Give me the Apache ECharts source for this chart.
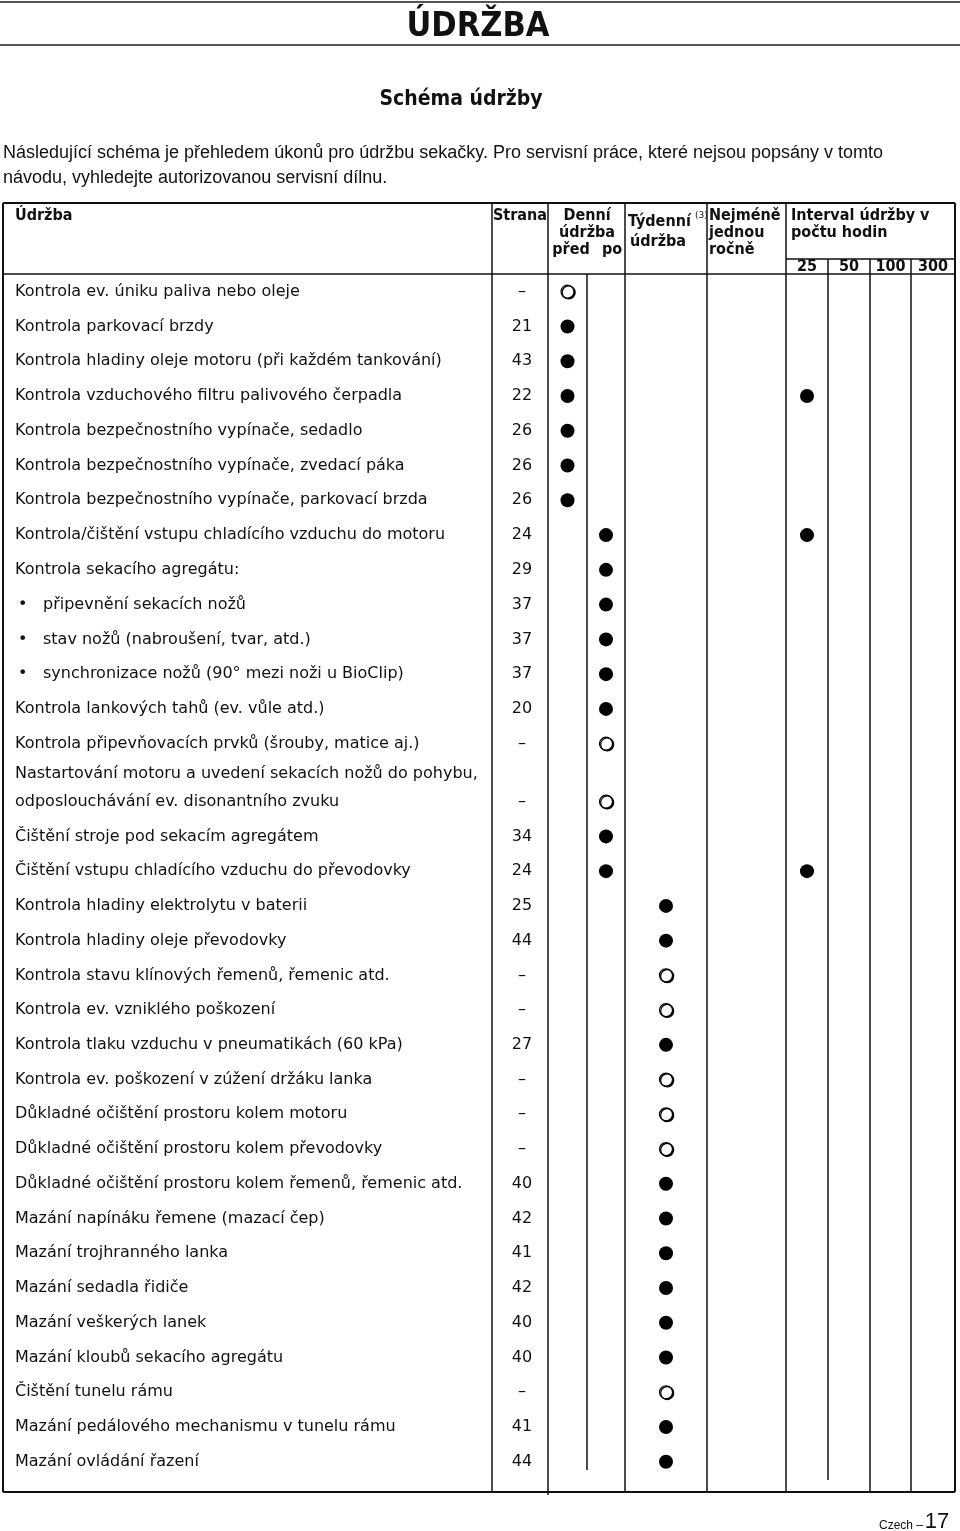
<!DOCTYPE html>
<html>
<head>
<meta charset="utf-8">
<title>Údržba – schéma údržby</title>
<script src="https://cdn.jsdelivr.net/npm/echarts@6/dist/echarts.min.js"></script>
<style>
  html, body { margin: 0; padding: 0; background: #fff; }
  #chart { width: 960px; height: 1531px; }
</style>
</head>
<body>
<div id="chart"></div>
<script>
// úkony údržby (řádky tabulky)
const tasks = [
  "Kontrola ev. úniku paliva nebo oleje",
  "Kontrola parkovací brzdy",
  "Kontrola hladiny oleje motoru (při každém tankování)",
  "Kontrola vzduchového filtru palivového čerpadla",
  "Kontrola bezpečnostního vypínače, sedadlo",
  "Kontrola bezpečnostního vypínače, zvedací páka",
  "Kontrola bezpečnostního vypínače, parkovací brzda",
  "Kontrola/čištění vstupu chladícího vzduchu do motoru",
  "Kontrola sekacího agregátu:",
  "• připevnění sekacích nožů",
  "• stav nožů (nabroušení, tvar, atd.)",
  "• synchronizace nožů (90° mezi noži u BioClip)",
  "Kontrola lankových tahů (ev. vůle atd.)",
  "Kontrola připevňovacích prvků (šrouby, matice aj.)",
  "Nastartování motoru a uvedení sekacích nožů do pohybu,\nodposlouchávání ev. disonantního zvuku",
  "Čištění stroje pod sekacím agregátem",
  "Čištění vstupu chladícího vzduchu do převodovky",
  "Kontrola hladiny elektrolytu v baterii",
  "Kontrola hladiny oleje převodovky",
  "Kontrola stavu klínových řemenů, řemenic atd.",
  "Kontrola ev. vzniklého poškození",
  "Kontrola tlaku vzduchu v pneumatikách (60 kPa)",
  "Kontrola ev. poškození v zúžení držáku lanka",
  "Důkladné očištění prostoru kolem motoru",
  "Důkladné očištění prostoru kolem převodovky",
  "Důkladné očištění prostoru kolem řemenů, řemenic atd.",
  "Mazání napínáku řemene (mazací čep)",
  "Mazání trojhranného lanka",
  "Mazání sedadla řidiče",
  "Mazání veškerých lanek",
  "Mazání kloubů sekacího agregátu",
  "Čištění tunelu rámu",
  "Mazání pedálového mechanismu v tunelu rámu",
  "Mazání ovládání řazení"
];

// odkaz na stranu návodu
const pages = [
  "–", "21", "43", "22", "26", "26", "26", "24", "29", "37", "37", "37",
  "20", "–", "–", "34", "24", "25", "44", "–", "–", "27", "–", "–",
  "–", "40", "42", "41", "42", "40", "40", "–", "41", "44"
];

// sloupce s intervaly
const columns = ["před", "po", "Týdenní", "Nejméně jednou ročně", "25", "50", "100", "300"];

// [řádek, sloupec, druh]  druh: "f" = plný kroužek, "o" = prázdný kroužek
const checks = [
  [0, "před", "o"], [1, "před", "f"], [2, "před", "f"], [3, "před", "f"], [3, "25", "f"],
  [4, "před", "f"], [5, "před", "f"], [6, "před", "f"],
  [7, "po", "f"], [7, "25", "f"], [8, "po", "f"], [9, "po", "f"], [10, "po", "f"],
  [11, "po", "f"], [12, "po", "f"], [13, "po", "o"], [14, "po", "o"], [15, "po", "f"],
  [16, "po", "f"], [16, "25", "f"],
  [17, "Týdenní", "f"], [18, "Týdenní", "f"], [19, "Týdenní", "o"], [20, "Týdenní", "o"],
  [21, "Týdenní", "f"], [22, "Týdenní", "o"], [23, "Týdenní", "o"], [24, "Týdenní", "o"],
  [25, "Týdenní", "f"], [26, "Týdenní", "f"], [27, "Týdenní", "f"], [28, "Týdenní", "f"],
  [29, "Týdenní", "f"], [30, "Týdenní", "f"], [31, "Týdenní", "o"], [32, "Týdenní", "f"],
  [33, "Týdenní", "f"]
];

// rozvržení tabulky (px)
const colEdges = [548, 587, 625, 707, 786, 828, 870, 911, 955];
const split = 14; // od tohoto řádku druhá mřížka (dvouřádkový text)

const BODY = "'DejaVu Sans', sans-serif";
const COND = "'DejaVu Sans Condensed', 'DejaVu Sans', sans-serif";
const NARROW = "'Liberation Sans Narrow', 'Liberation Sans', sans-serif";
const INK = "#111";

const colX = (name) => {
  const i = columns.indexOf(name);
  return (colEdges[i] + colEdges[i + 1]) / 2;
};

const chart = echarts.init(document.getElementById("chart"));

const groups = [
  { from: 0, to: split, top: 274.3, height: 14 * 34.77 },
  { from: split, to: tasks.length, top: 784.3, height: 20 * 34.74 }
];

const grid = [], xAxis = [], yAxis = [], series = [];

groups.forEach((g, gi) => {
  grid.push({
    left: colEdges[0], width: colEdges[8] - colEdges[0], top: g.top, height: g.height,
    containLabel: false, outerBoundsMode: "none"
  });
  xAxis.push({ gridIndex: gi, type: "value", min: colEdges[0], max: colEdges[8], show: false });

  const names = tasks.slice(g.from, g.to).map((t) =>
    t.indexOf("\n") >= 0
      ? { value: t, textStyle: { align: "left", verticalAlign: "middle", padding: [0, 0, 28, 0], lineHeight: 28 } }
      : t
  );
  yAxis.push({
    gridIndex: gi, type: "category", inverse: true, position: "left", data: names,
    axisLine: { show: false }, axisTick: { show: false }, splitLine: { show: false },
    axisLabel: {
      interval: 0, align: "left", margin: colEdges[0] - 15,
      fontFamily: BODY, fontSize: 16, color: INK, lineHeight: 28,
      formatter: (v) => v.startsWith("• ") ? "{bul|•}{txt|" + v.slice(2) + "}" : v,
      rich: {
        bul: { width: 25, padding: [0, 0, 0, 3], fontFamily: BODY, fontSize: 16, color: INK },
        txt: { fontFamily: BODY, fontSize: 16, color: INK }
      }
    }
  });
  yAxis.push({
    gridIndex: gi, type: "category", inverse: true, position: "left",
    data: pages.slice(g.from, g.to),
    axisLine: { show: false }, axisTick: { show: false }, splitLine: { show: false },
    axisLabel: { interval: 0, align: "center", margin: colEdges[0] - 522, fontFamily: BODY, fontSize: 16, color: INK }
  });

  const inGroup = checks.filter((c) => c[0] >= g.from && c[0] < g.to);
  series.push({
    type: "scatter", xAxisIndex: gi, yAxisIndex: gi * 2,
    symbol: "circle", symbolSize: 14, silent: true,
    itemStyle: { color: "#000", opacity: 1 },
    data: inGroup.filter((c) => c[2] === "f").map((c) => [colX(c[1]), c[0] - g.from])
  });
  series.push({
    type: "scatter", xAxisIndex: gi, yAxisIndex: gi * 2,
    symbol: "circle", symbolSize: 13, silent: true,
    itemStyle: {
      color: "#fff", opacity: 1, borderColor: "#000", borderWidth: 1.2,
      shadowColor: "#000", shadowOffsetX: 1.2, shadowOffsetY: 0.8, shadowBlur: 0
    },
    data: inGroup.filter((c) => c[2] === "o").map((c) => [colX(c[1]), c[0] - g.from])
  });
});

// rámeček tabulky
const vLines = [
  [3, 203, 1492, 2], [492, 203, 1492, 1.5], [548, 203, 1495, 1.5], [587, 274, 1470, 1.5],
  [625, 203, 1492, 1.5], [707, 203, 1492, 1.5], [786, 203, 1492, 1.5], [828, 259, 1480, 1.5],
  [870, 259, 1492, 1.5], [911, 259, 1492, 1.5], [955, 203, 1492, 2]
];
const hLines = [
  [0, 960, 2, 2, "#555"], [0, 960, 45, 2, "#555"],
  [3, 955, 203, 2, INK], [3, 955, 274, 1.5, INK], [786, 955, 259, 1.5, INK], [3, 955, 1492, 2, INK]
];

const graphic = [];
vLines.forEach(([x, y1, y2, w]) => graphic.push({
  type: "line", silent: true,
  shape: { x1: x, y1: y1, x2: x, y2: y2 }, style: { stroke: INK, lineWidth: w }
}));
hLines.forEach(([x1, x2, y, w, c]) => graphic.push({
  type: "line", silent: true,
  shape: { x1: x1, y1: y, x2: x2, y2: y }, style: { stroke: c, lineWidth: w }
}));

const txt = (text, x, y, font, align) => graphic.push({
  type: "text", silent: true,
  style: { text: text, x: x, y: y, font: font, fill: INK, textAlign: align || "left", textVerticalAlign: "middle" }
});

const HEAD = "bold 16px " + COND;
txt("ÚDRŽBA", 478, 27, "bold 34px " + COND, "center");
txt("Schéma údržby", 461, 100, "bold 21px " + COND, "center");
txt("Následující schéma je přehledem úkonů pro údržbu sekačky. Pro servisní práce, které nejsou popsány v tomto", 3, 153, "18px " + NARROW);
txt("návodu, vyhledejte autorizovanou servisní dílnu.", 3, 178, "18px " + NARROW);

txt("Údržba", 15, 216, HEAD);
txt("Strana", 520, 216, HEAD, "center");
txt("Denní", 587, 216, HEAD, "center");
txt("údržba", 587, 233, HEAD, "center");
txt("před", 571, 250, HEAD, "center");
txt("po", 612, 250, HEAD, "center");
txt("Týdenní", 628, 222, HEAD);
txt("(3)", 695, 216, "9px " + BODY);
txt("údržba", 630, 242, HEAD);
txt("Nejméně", 709, 216, HEAD);
txt("jednou", 709, 233, HEAD);
txt("ročně", 709, 250, HEAD);
txt("Interval údržby v", 791, 216, HEAD);
txt("počtu hodin", 791, 233, HEAD);
["25", "50", "100", "300"].forEach((h) => txt(h, colX(h), 267, "bold 16px " + COND, "center"));

txt("Czech –", 879, 1526, "12px " + NARROW);
txt("17", 937, 1522, "22px " + NARROW, "center");

chart.setOption({
  backgroundColor: "#fff",
  animation: false,
  grid: grid,
  xAxis: xAxis,
  yAxis: yAxis,
  series: series,
  graphic: graphic
});
</script>
</body>
</html>
